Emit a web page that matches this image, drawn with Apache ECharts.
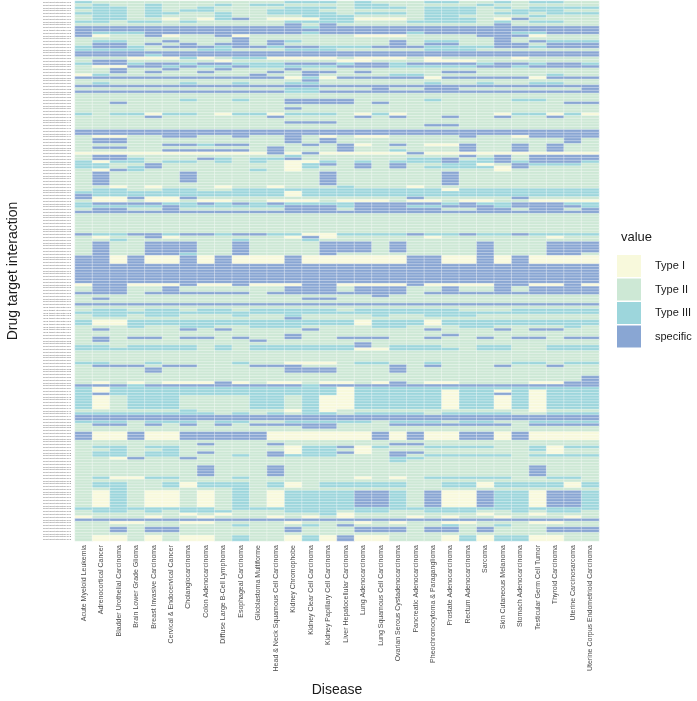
<!DOCTYPE html>
<html>
<head>
<meta charset="utf-8">
<script src="https://cdn.jsdelivr.net/npm/echarts@6/dist/echarts.min.js"></script>
<style>
  html, body { margin: 0; padding: 0; background: #fff; }
  #chart { width: 697px; height: 701px; }
</style>
</head>
<body>
<div id="chart"></div>
<script>
// 疾病（x 轴）
const diseases = [
  'Acute Myeloid Leukemia', 'Adrenocortical Cancer', 'Bladder Urothelial Carcinoma',
  'Brain Lower Grade Glioma', 'Breast Invasive Carcinoma', 'Cervical & Endocervical Cancer',
  'Cholangiocarcinoma', 'Colon Adenocarcinoma', 'Diffuse Large B-Cell Lymphoma',
  'Esophageal Carcinoma', 'Glioblastoma Multiforme', 'Head & Neck Squamous Cell Carcinoma',
  'Kidney Chromophobe', 'Kidney Clear Cell Carcinoma', 'Kidney Papillary Cell Carcinoma',
  'Liver Hepatocellular Carcinoma', 'Lung Adenocarcinoma', 'Lung Squamous Cell Carcinoma',
  'Ovarian Serous Cystadenocarcinoma', 'Pancreatic Adenocarcinoma',
  'Pheochromocytoma & Paraganglioma', 'Prostate Adenocarcinoma', 'Rectum Adenocarcinoma',
  'Sarcoma', 'Skin Cutaneous Melanoma', 'Stomach Adenocarcinoma', 'Testicular Germ Cell Tumor',
  'Thyroid Carcinoma', 'Uterine Carcinosarcoma', 'Uterine Corpus Endometrioid Carcinoma'
];

// 分类（1..4）
const typeLabels = ['Type I', 'Type II', 'Type III', 'specific'];
const typeColors = ['#f8f9dc', '#cde8d5', '#9dd6dc', '#89a6d3'];

// 每行一个药物-靶点对，每个字符一个疾病：1=Type I 2=Type II 3=Type III 4=specific
const interactionRows = [
  '32222 22222 22333 23222 33223 23322',
  '23223 22232 33222 23322 22232 22222',
  '33323 22322 22333 23332 33323 23333',
  '23323 23322 23332 22222 33322 33322',
  '33323 32232 23333 23332 33323 32333',
  '23323 22232 22233 32222 33222 23222',
  '23322 12134 21113 31112 33321 42222',
  '33233 23222 22333 32223 33323 23322',
  '22222 22222 22424 22222 22224 22222',
  '44444 44444 44434 44444 44444 44444',
  '44444 44444 44444 44444 44444 44444',
  '43334 44444 44434 44443 44444 33444',
  '41224 12241 22222 21112 22244 41222',
  '22222 22224 22222 22222 22224 22222',
  '23322 42224 24322 22242 33224 24333',
  '24424 24244 24222 22242 44224 42444',
  '34432 44434 43443 33444 33334 43444',
  '33332 22332 22333 22222 33322 22222',
  '44444 44444 44444 44444 44444 44444',
  '44443 44444 44444 44444 44444 44444',
  '22211 13123 31111 21112 12222 12222',
  '24422 22212 22222 11222 11122 22222',
  '34434 43443 33444 34434 44434 43443',
  '21144 34334 33333 44433 33344 34444',
  '22422 42242 22422 22222 22222 22222',
  // 第二段
  '22424 22422 24244 24222 24422 22222',
  '13222 22222 42242 22233 22222 22322',
  '44444 44444 44131 44444 14444 41444',
  '22222 22222 22242 22222 22222 22222',
  '23222 23223 22332 22222 32232 23322',
  '44444 44444 44444 44444 44444 44444',
  '22222 22222 22332 22422 44222 22224',
  '44444 44444 44334 44444 44444 44444',
  '22222 22222 22222 22222 22222 22222',
  '22222 22222 22222 22222 22222 22222',
  '22222 23223 22444 42222 32222 33222',
  '22422 22222 22444 42422 22222 22244',
  '22222 22222 22222 22222 22222 22222',
  '22222 22222 22422 22222 22222 22222',
  '22222 22222 22222 22222 22222 22222',
  '32331 33213 31333 21312 22221 33131',
  '22224 22222 24222 24242 24224 22422',
  '22222 22222 22222 22222 22222 22222',
  '22222 22222 22444 22222 22222 22222',
  '22222 22222 22222 22222 44222 22222',
  '22222 22222 22222 22222 22222 22222',
  '44444 44444 44444 44444 44444 44444',
  '44444 44444 44444 44444 44444 44444',
  '21122 44224 22421 21122 22422 14444',
  '24422 22222 22424 22222 22222 22242',
  // 第三段
  '24422 22222 22424 22222 22222 22242',
  '22222 44344 22242 41242 11422 42422',
  '24422 22222 24222 42222 22422 42422',
  '22222 44444 24222 42232 22422 42422',
  '11111 11111 14141 11114 11111 11111',
  '24422 22222 22322 22222 22424 24444',
  '24432 22432 33422 22223 34234 24444',
  '31332 33232 32113 23233 34334 34443',
  '33224 22222 22134 24242 23312 43332',
  '33234 22222 22132 24242 33331 42222',
  '21432 22222 32122 22222 22221 22222',
  '24222 24222 22224 22222 24222 22222',
  '24222 24222 22224 22222 24222 22222',
  '24222 24222 22224 22222 24222 22222',
  '24222 24222 22224 22222 24222 22222',
  '24222 22222 22224 22222 24222 22222',
  '22121 22212 21222 32221 22222 22222',
  '23322 33223 33333 33333 31333 33333',
  '33333 33333 33133 33333 33333 33333',
  '43333 33333 33133 33333 33333 33333',
  '41141 14222 22222 22224 22222 42222',
  '21121 12112 21112 11121 12112 21111',
  '34444 33434 34333 34444 43433 44433',
  '33333 43333 33444 34443 34443 44443',
  '24422 42222 22444 24444 42244 24424',
  // 第四段
  '44444 44444 44444 44444 44444 44444',
  '22222 22222 22222 22222 22222 22222',
  '22222 22222 22222 22222 22222 22222',
  '22222 22222 22222 22222 22222 22222',
  '22222 22222 22222 22222 22222 22222',
  '22222 22222 22222 22222 22222 22222',
  '22222 22222 22222 22222 22222 22222',
  '22222 22222 22222 22222 22222 22222',
  '43344 34434 43311 33334 33433 43333',
  '21224 12222 22141 22222 12222 22122',
  '22322 22223 22232 22222 22222 22222',
  '24224 44224 22224 44242 22242 22444',
  '24224 44224 22224 44242 22242 22444',
  '24224 44224 22224 44242 22242 22444',
  '24224 44224 22224 44242 22242 22444',
  '24224 43224 22224 22222 22242 22442',
  '44141 14141 11411 11114 41141 41111',
  '44141 14141 11411 11114 41141 41111',
  '44141 14141 11411 11114 41141 41111',
  '44444 44444 44444 44444 44444 44444',
  '44444 44444 44444 44444 44444 44444',
  '44444 44444 44444 44444 44444 44444',
  '44444 44444 44444 44444 44444 44444',
  '44444 44444 44444 44444 44444 44444',
  '44444 44444 44444 44444 44444 44444',
  // 第五段
  '44444 44444 44444 44444 44444 44444',
  '14411 14114 11144 11114 11114 41141',
  '24422 42222 22444 24442 24224 24444',
  '24422 42222 22444 24442 24224 24444',
  '44424 44444 24444 44442 44444 44444',
  '22222 22222 22222 22422 22222 22222',
  '24222 22222 22244 22222 22222 22222',
  '22222 22222 22222 22222 22222 22222',
  '44444 44444 44444 44444 44444 44444',
  '22222 22222 22222 22222 22222 22222',
  '23323 32332 33333 23333 33222 33333',
  '33333 33333 33333 33333 33333 33333',
  '23323 32223 22322 22322 33322 22222',
  '22222 22222 22422 22222 22222 22222',
  '31133 33333 33333 31333 13333 33333',
  '31133 33333 33333 31333 13333 33333',
  '22232 23322 33322 22332 22332 22232',
  '24222 24242 22242 22222 42224 24422',
  '22222 22222 22222 22222 22222 22222',
  '22222 22222 22422 22222 24222 22222',
  '24244 24424 22422 44422 42242 44244',
  '24222 22222 42222 22222 22222 22222',
  '22222 22222 22222 24222 22222 22222',
  // 第六段
  '33233 33232 33333 34233 32233 22333',
  '33333 33232 33333 31133 33233 22333',
  '22222 22222 22222 22222 22222 22222',
  '22222 22222 22222 22222 22222 22222',
  '22222 22222 22222 22222 22222 22222',
  '22222 22222 22222 22222 22222 22222',
  '33223 22223 22111 23322 32222 33233',
  '24442 44222 44422 22242 42224 22422',
  '22224 22222 22444 22242 22222 22222',
  '22224 22222 22444 22242 22222 22222',
  '22222 22222 22222 22222 22222 22222',
  '22222 22222 22222 22222 22222 22224',
  '22222 22222 22222 22222 22222 22224',
  '21212 11141 21121 12142 11222 21144',
  '44434 44444 44434 44444 44444 44444',
  '31333 33333 33333 13333 33333 33333',
  '31333 33333 33333 13333 31331 31333',
  '34333 33333 33333 13333 31334 31333',
  '31233 32222 33231 13333 31331 31333',
  '31233 32222 33231 13333 31331 31333',
  '31233 32222 33231 13333 31331 31333',
  '31233 32222 33231 13333 31331 31333',
  '31233 32222 33231 13333 31331 31333',
  '22222 23222 22131 22222 22222 21222',
  // 第七段
  '33333 33323 23233 23333 23333 22333',
  '44444 44444 44444 44444 44444 44444',
  '44444 44444 44444 44444 44444 44444',
  '33323 33233 22333 33233 32332 23333',
  '24424 24242 44444 22244 44444 24444',
  '22222 22222 22244 22222 22222 22222',
  '22222 22222 22222 22222 22222 22222',
  '41141 14444 41111 11414 11441 41111',
  '41141 14444 41111 11414 11441 41111',
  '41141 14444 41111 11414 11441 41111',
  '22222 22222 22222 22222 22222 22222',
  '22222 22422 24222 22244 22222 22222',
  '23323 32222 22133 41322 33332 23133',
  '22322 32222 22133 21222 22222 23122',
  '23323 32422 24133 41244 22222 22122',
  '23323 32223 24333 22242 33333 23333',
  '22142 24222 22222 22233 22222 22222',
  '22222 22222 22222 22232 22222 22222',
  '22222 22222 22222 22222 22222 22222',
  '22222 22422 24222 22222 22222 24222',
  '22222 22422 24222 22222 22222 24222',
  '22222 22422 24222 22222 22222 24222',
  '22222 22422 24222 22222 22222 24222',
  // 第八段
  '23113 32223 22222 21212 33333 22332',
  '22222 22222 22222 22222 22222 22222',
  '23322 31333 23123 33332 23313 33313',
  '23322 31333 23123 33332 23313 33313',
  '22322 22223 22222 22222 22222 22222',
  '21321 12123 21333 34432 41143 31443',
  '21321 12123 21333 34432 41143 31443',
  '21321 12123 21333 34432 41143 31443',
  '21321 12123 21333 34432 41143 31443',
  '21321 12123 21333 34432 41143 31443',
  '21321 12123 21333 34432 41143 31443',
  '33333 33323 33333 33333 33333 33333',
  '23323 23332 22333 23322 33322 32332',
  '22222 21212 22223 12222 22212 21222',
  '12221 22122 21212 12221 21221 22212',
  '44444 44444 44444 44444 44444 44444',
  '22112 21122 22122 21212 21122 21122',
  '22222 22223 22232 42222 23223 22222',
  '22424 42222 22422 24442 44242 22444',
  '22424 42222 22422 24442 44242 22444',
  '22222 22222 22222 22222 22222 22222',
  '21121 21123 22131 41122 21313 31122',
  '21121 21123 22131 41122 21313 31122'
];

// y 轴标签（原图中字号过小无法辨认，用编号代替）
const interactions = interactionRows.map((r, i) => 'drug target interaction ' + String(i + 1).padStart(3, '0'));

// 组装热力图数据
const cells = [];
interactionRows.forEach((row, i) => {
  const s = row.replace(/\s/g, '');
  diseases.forEach((d, j) => {
    cells.push([j, i, Number(s[j] || 2)]);
  });
});

const chart = echarts.init(document.getElementById('chart'), null, { renderer: 'canvas' });

const option = {
  animation: false,
  backgroundColor: '#ffffff',
  textStyle: { fontFamily: 'Liberation Sans, Arial, sans-serif' },
  title: {
    text: 'value',
    left: 616,
    top: 226,
    textStyle: { fontSize: 13, fontWeight: 'normal', color: '#1a1a1a' }
  },
  grid: {
    left: 75,
    right: 98,
    top: 1,
    bottom: 160,
    outerBoundsMode: 'none',
    containLabel: false
  },
  xAxis: {
    type: 'category',
    data: diseases,
    name: 'Disease',
    nameLocation: 'middle',
    nameGap: 142,
    nameMoveOverlap: false,
    nameTextStyle: { fontSize: 14, color: '#1a1a1a' },
    axisLine: { show: false },
    axisTick: { show: false },
    splitLine: { show: false },
    axisLabel: {
      rotate: 90,
      interval: 0,
      fontSize: 7,
      color: '#4d4d4d',
      margin: 4
    }
  },
  yAxis: {
    type: 'category',
    data: interactions,
    inverse: true,
    name: 'Drug target interaction',
    nameLocation: 'middle',
    nameGap: 55,
    nameMoveOverlap: false,
    nameTextStyle: { fontSize: 14, color: '#1a1a1a' },
    axisLine: { show: false },
    axisTick: { show: false },
    splitLine: { show: false },
    axisLabel: {
      interval: 0,
      fontSize: 2.4,
      color: '#6b6b6b',
      margin: 4
    }
  },
  visualMap: {
    type: 'piecewise',
    dimension: 2,
    orient: 'vertical',
    inverse: true,
    align: 'left',
    left: 602,
    top: 240,
    itemWidth: 24,
    itemHeight: 22,
    itemGap: 1.5,
    itemSymbol: 'rect',
    textGap: 14,
    selectedMode: false,
    hoverLink: false,
    textStyle: { fontSize: 11, color: '#1a1a1a' },
    pieces: typeLabels.map((label, k) => ({ value: k + 1, label: label, color: typeColors[k] }))
  },
  series: [{
    type: 'heatmap',
    data: cells,
    progressive: 0,
    itemStyle: {
      borderColor: '#ffffff',
      borderWidth: 0.35
    },
    emphasis: { disabled: true }
  }]
};

chart.setOption(option);
window.addEventListener('resize', () => chart.resize());
</script>
</body>
</html>
